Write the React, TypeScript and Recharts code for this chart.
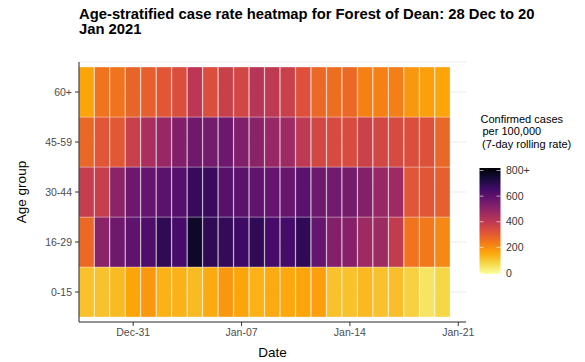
import React from "react";
import { BarChart, Bar, Cell, CartesianGrid, XAxis, YAxis } from "recharts";

// days shown as tiles, plus the end of the date axis
const dates = [
  "Dec-28", "Dec-29", "Dec-30", "Dec-31", "Jan-01", "Jan-02", "Jan-03", "Jan-04",
  "Jan-05", "Jan-06", "Jan-07", "Jan-08", "Jan-09", "Jan-10", "Jan-11", "Jan-12",
  "Jan-13", "Jan-14", "Jan-15", "Jan-16", "Jan-17", "Jan-18", "Jan-19", "Jan-20",
];
const axisEnd = "Jan-21";
const xTicks = ["Dec-31", "Jan-07", "Jan-14", "Jan-21"];

const ageGroups = ["0-15", "16-29", "30-44", "45-59", "60+"];

// 7-day rolling rate per 100,000
const rate0to15 = [115, 115, 125, 160, 185, 140, 140, 125, 150, 185, 160, 140, 150, 155, 160, 170, 115, 115, 130, 115, 118, 90, 55, 80];
const rate16to29 = [270, 495, 550, 585, 615, 670, 630, 745, 670, 665, 645, 670, 630, 635, 670, 570, 510, 505, 460, 462, 385, 250, 240, 210];
const rate30to44 = [380, 375, 495, 555, 570, 590, 605, 660, 655, 600, 590, 580, 570, 565, 590, 550, 545, 540, 510, 470, 460, 310, 310, 290];
const rate45to59 = [275, 310, 305, 370, 440, 470, 515, 550, 540, 555, 515, 495, 470, 460, 395, 350, 340, 335, 365, 350, 340, 330, 320, 275];
const rate60plus = [160, 250, 250, 280, 290, 310, 330, 400, 330, 370, 350, 410, 395, 370, 320, 270, 260, 270, 225, 225, 230, 185, 170, 160];

const rates = [rate0to15, rate16to29, rate30to44, rate45to59, rate60plus];

const legendTicks = [0, 200, 400, 600, 800];
const rateMax = 800;

// inferno, dark to light
const inferno = [
  "#000004", "#160b39", "#420a68", "#6a176e", "#932667", "#bc3754",
  "#dd513a", "#f37819", "#fca50a", "#f6d746", "#fcffa4",
];

const hexRgb = (h: string) => [1, 3, 5].map((k) => parseInt(h.slice(k, k + 2), 16));

function rateColor(v: number) {
  const t = 1 - Math.min(Math.max(v, 0), rateMax) / rateMax;
  const p = t * (inferno.length - 1);
  const i = Math.min(Math.floor(p), inferno.length - 2);
  const f = p - i;
  const a = hexRgb(inferno[i]);
  const b = hexRgb(inferno[i + 1]);
  const c = a.map((x, k) => Math.round(x + (b[k] - x) * f));
  return `rgb(${c[0]},${c[1]},${c[2]})`;
}

const table = [...dates, axisEnd].map((date, i) => {
  const row: Record<string, string | number> = { date };
  if (i < dates.length) ageGroups.forEach((g) => (row[g] = 1));
  return row;
});

const yTicks = ageGroups.map((_, i) => i + 0.5);

const FONT = "'Liberation Sans', Arial, sans-serif";

// colour bar geometry
const barX = 479.5;
const barW = 21;
const barTop = 168;
const barBottom = 274;
const legendY = (v: number) => 273 - (v / rateMax) * 102.5;

const App: React.FC = () => {
  return (
    <div
      style={{
        position: "absolute",
        left: 0,
        top: 0,
        width: 585,
        height: 362,
        background: "#fff",
        fontFamily: FONT,
      }}
    >
      <BarChart
        width={585}
        height={362}
        data={table}
        margin={{ top: 62, right: 119, bottom: 0, left: 0 }}
        barCategoryGap={0}
        barGap={0}
      >
        <CartesianGrid vertical={false} stroke="#ebebeb" />
        <XAxis
          dataKey="date"
          ticks={xTicks}
          interval={0}
          height={40}
          tickSize={4}
          tickMargin={3}
          tick={{ fill: "#4d4d4d", fontSize: 10.5 }}
          axisLine={{ stroke: "#333", strokeWidth: 1.1 }}
          tickLine={{ stroke: "#333" }}
          label={{ value: "Date", position: "insideBottom", offset: 5, fill: "#000", fontSize: 13.5 }}
        />
        <YAxis
          type="number"
          domain={[-0.1, ageGroups.length + 0.1]}
          allowDataOverflow
          ticks={yTicks}
          interval={0}
          width={79}
          tickSize={4}
          tickMargin={3}
          tickFormatter={(v: number) => ageGroups[Math.floor(v)]}
          tick={{ fill: "#4d4d4d", fontSize: 10.5 }}
          axisLine={{ stroke: "#333", strokeWidth: 1.1 }}
          tickLine={{ stroke: "#333" }}
          label={{
            value: "Age group",
            angle: -90,
            position: "insideLeft",
            offset: 21,
            fill: "#000",
            fontSize: 13.5,
            style: { textAnchor: "middle" },
          }}
        />
        {ageGroups.map((g, gi) => (
          <Bar
            key={g}
            dataKey={g}
            stackId="tiles"
            isAnimationActive={false}
            stroke="#ffffff"
            strokeOpacity={0.4}
            strokeWidth={0.8}
          >
            {dates.map((d, i) => (
              <Cell key={d} fill={rateColor(rates[gi][i])} />
            ))}
          </Bar>
        ))}
      </BarChart>

      <svg
        width={585}
        height={362}
        style={{ position: "absolute", left: 0, top: 0, pointerEvents: "none" }}
      >
        <defs>
          <linearGradient id="infernoBar" x1="0" y1="1" x2="0" y2="0">
            {inferno
              .slice()
              .reverse()
              .map((c, i) => (
                <stop key={c} offset={i / (inferno.length - 1)} stopColor={c} />
              ))}
          </linearGradient>
        </defs>
        <text x={79} y={19} fontSize={14.8} fontWeight="bold" fill="#000" fontFamily={FONT}>
          Age-stratified case rate heatmap for Forest of Dean: 28 Dec to 20
        </text>
        <text x={79} y={33.5} fontSize={14.8} fontWeight="bold" fill="#000" fontFamily={FONT}>
          Jan 2021
        </text>

        <g fontFamily={FONT} fontSize={11} fill="#000">
          <text x={480.5} y={122.5}>Confirmed cases</text>
          <text x={482.5} y={135}>per 100,000</text>
          <text x={482} y={147.5}>(7-day rolling rate)</text>
        </g>
        <rect x={barX} y={barTop} width={barW} height={barBottom - barTop} fill="url(#infernoBar)" />
        {legendTicks.map((v) => (
          <g key={v}>
            <line x1={barX} x2={barX + 4} y1={legendY(v)} y2={legendY(v)} stroke="#fff" strokeOpacity={0.6} />
            <line x1={barX + barW - 4} x2={barX + barW} y1={legendY(v)} y2={legendY(v)} stroke="#fff" strokeOpacity={0.6} />
            <text
              x={506}
              y={legendY(v)}
              dy="0.35em"
              fontFamily={FONT}
              fontSize={10.5}
              fill="#333"
            >
              {v === rateMax ? `${v}+` : v}
            </text>
          </g>
        ))}
      </svg>
    </div>
  );
};

export default App;
